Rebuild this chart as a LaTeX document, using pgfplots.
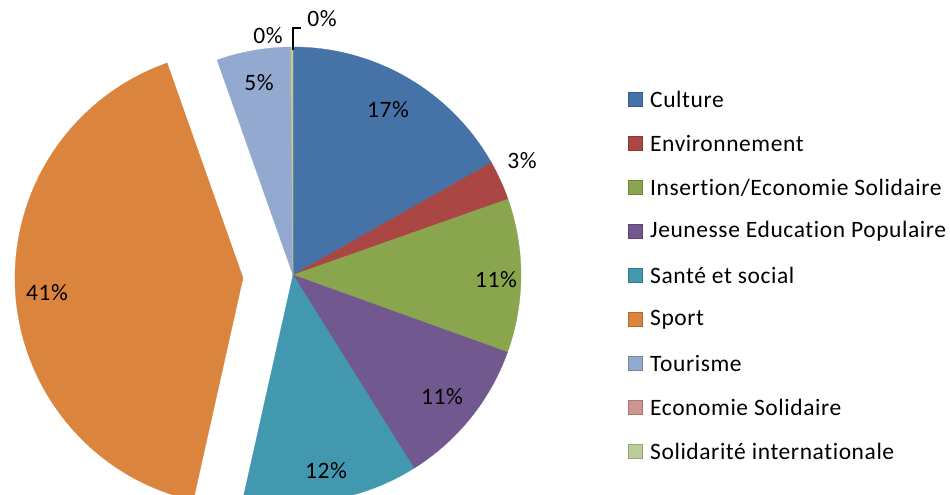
\documentclass[border=0pt]{standalone}
\usepackage{fontspec}
\setmainfont{Carlito}[LetterSpace=2.5,Ligatures={NoCommon}]
\usepackage{pgfplots}
\pgfplotsset{compat=1.18}
\definecolor{cCult}{HTML}{4572A7}
\definecolor{cEnv}{HTML}{AA4643}
\definecolor{cIns}{HTML}{89A54E}
\definecolor{cJeu}{HTML}{71588F}
\definecolor{cSan}{HTML}{4198AF}
\definecolor{cSpo}{HTML}{DB843D}
\definecolor{cTou}{HTML}{93A9CF}
\definecolor{cEco}{HTML}{D19392}
\definecolor{cSol}{HTML}{B9CD96}
\newcommand\lbl{\fontsize{23.5}{27}\selectfont}
% slice: colour, cumulative start %, cumulative end %, centre x, centre y
\newcommand\slice[5]{\filldraw[fill=#1,draw=#1,line width=0.3pt] (axis cs:#4,#5) -- +({90-3.6*#2}:228pt) arc[start angle={90-3.6*#2}, end angle={90-3.6*#3}, radius=228pt] -- cycle;}
\newcommand\legitem[3]{\filldraw[fill=#1,draw=#1!80!black,line width=0.6pt] (axis cs:628,{495-#2-7}) rectangle (axis cs:642,{495-#2+7});
\node[anchor=west,font=\lbl,inner sep=0pt] at (axis cs:650,{495-#2}) {#3};}
\begin{document}
\begin{tikzpicture}
\useasboundingbox (0,0) rectangle (950pt,495pt);
\clip (0,0) rectangle (950pt,495pt);
\begin{axis}[at={(0,0)}, anchor=south west, width=950pt, height=495pt, scale only axis,
  xmin=0, xmax=950, ymin=0, ymax=495, hide axis, clip=true]
\addplot[draw=none] coordinates {(0,0) (950,495)};
% values (percent): Culture 16.8, Environnement 2.8, Insertion 10.9, Jeunesse 10.6,
% Sante 12.4, Sport 41.1, Tourisme 5.2, Economie Solidaire 0.05, Solidarite int. 0.15
\slice{cCult}{0}{16.8}{293}{220}
\slice{cEnv}{16.8}{19.6}{293}{220}
\slice{cIns}{19.6}{30.5}{293}{220}
\slice{cJeu}{30.5}{41.1}{293}{220}
\slice{cSan}{41.1}{53.5}{293}{220}
\slice{cSpo}{53.5}{94.6}{243}{217}
\slice{cTou}{94.6}{99.8}{293}{220}
\slice{cEco}{99.8}{99.85}{293}{220}
\slice{cSol}{99.85}{100}{293}{220}
% data labels
\node[font=\lbl] at (axis cs:388,385) {17\%};
\node[font=\lbl] at (axis cs:522,334) {3\%};
\node[font=\lbl] at (axis cs:496,215) {11\%};
\node[font=\lbl] at (axis cs:442,98) {11\%};
\node[font=\lbl] at (axis cs:326,24) {12\%};
\node[font=\lbl] at (axis cs:47,202) {41\%};
\node[font=\lbl] at (axis cs:259,412) {5\%};
\node[font=\lbl] at (axis cs:268,459) {0\%};
\node[font=\lbl] at (axis cs:322,476) {0\%};
\draw[black,line width=1.2pt] (axis cs:293,445) -- (axis cs:293,467) -- (axis cs:301,467);
% legend
\legitem{cCult}{99.5}{Culture}
\legitem{cEnv}{143.5}{Environnement}
\legitem{cIns}{187.5}{Insertion/Economie Solidaire}
\legitem{cJeu}{231.5}{Jeunesse Education Populaire}
\legitem{cSan}{275.5}{Santé et social}
\legitem{cSpo}{319.5}{Sport}
\legitem{cTou}{363.5}{Tourisme}
\legitem{cEco}{407.5}{Economie Solidaire}
\legitem{cSol}{451.5}{Solidarité internationale}
\end{axis}
\end{tikzpicture}
\end{document}
